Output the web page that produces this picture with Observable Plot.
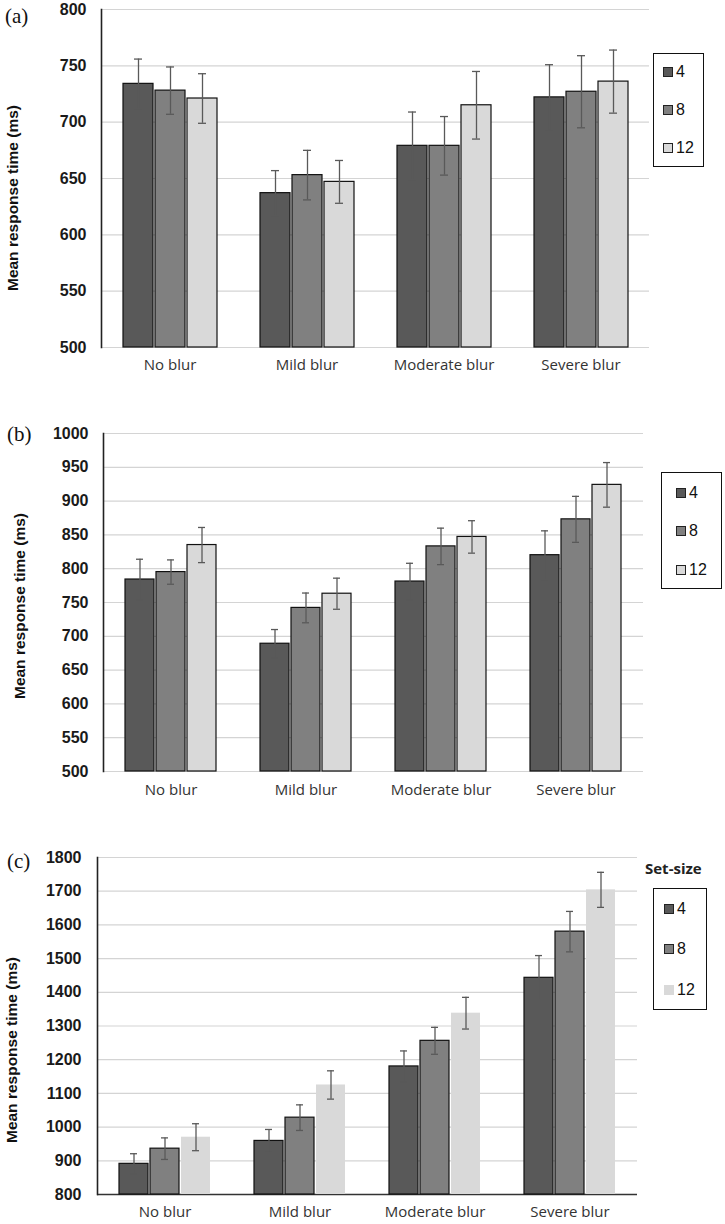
<!DOCTYPE html>
<html>
<head>
<meta charset="utf-8">
<script src="https://cdn.jsdelivr.net/npm/d3@7"></script>
<script src="https://cdn.jsdelivr.net/npm/@observablehq/plot@0.6"></script>
<style>
  html, body { margin: 0; padding: 0; background: #fff; }
  #root { position: relative; width: 725px; height: 1224px; overflow: hidden; font-family: "Liberation Sans", Arial, sans-serif; }
  .panel { position: absolute; left: 0; }
  .tag { position: absolute; font-family: "Liberation Serif", "Times New Roman", serif; font-size: 21px; color: #111; line-height: 1; transform: translateY(-50%); }
  .ytitle { position: absolute; font-weight: bold; font-size: 15.5px; color: #111; white-space: nowrap; transform: translate(-50%, -50%) rotate(-90deg); }
  .legend { position: absolute; border: 1.3px solid #111; box-sizing: border-box; background: #fff; }
  .item { position: absolute; display: flex; align-items: center; font-size: 16px; color: #111; transform: translateY(-50%); }
  .sw { width: 8px; height: 8px; border: 1px solid #222; margin-right: 3px; }
  .ltitle { position: absolute; font-family: "Open Sans", sans-serif; font-weight: bold; font-size: 15px; color: #222; transform: translateY(-50%); }
</style>
</head>
<body>
<div id="root"></div>
<script>
const categories = ["No blur", "Mild blur", "Moderate blur", "Severe blur"];
const setSizes = ["4", "8", "12"];
const colors = ["#595959", "#808080", "#d9d9d9"];

// rows = blur categories, columns = set sizes 4, 8, 12
const meanA = [[734, 728, 721], [637, 653, 647], [679, 679, 715], [722, 727, 736]];
const errA  = [[22, 21, 22], [20, 22, 19], [30, 26, 30], [29, 32, 28]];
const ticksA = [500, 550, 600, 650, 700, 750, 800];

const meanB = [[784, 795, 835], [689, 742, 763], [781, 833, 847], [820, 873, 924]];
const errB  = [[30, 18, 26], [21, 22, 23], [27, 27, 24], [36, 34, 33]];
const ticksB = [500, 550, 600, 650, 700, 750, 800, 850, 900, 950, 1000];

const meanC = [[891, 936, 970], [959, 1028, 1125], [1180, 1256, 1338], [1443, 1580, 1704]];
const errC  = [[30, 32, 40], [34, 38, 42], [46, 40, 47], [66, 60, 52]];
const ticksC = [800, 900, 1000, 1100, 1200, 1300, 1400, 1500, 1600, 1700, 1800];

const root = document.getElementById("root");

function rowsOf(means, errs) {
  const rows = [];
  categories.forEach((c, i) => setSizes.forEach((s, j) => {
    rows.push({cat: c, size: s, mean: means[i][j], lo: means[i][j] - errs[i][j], hi: means[i][j] + errs[i][j]});
  }));
  return rows;
}

function panel(cfg) {
  const rows = rowsOf(cfg.means, cfg.errs);
  const y0 = cfg.ticks[0], y1 = cfg.ticks[cfg.ticks.length - 1];
  const marks = [
    Plot.gridY(cfg.ticks, {stroke: "#d4d4d4", strokeOpacity: 1, strokeWidth: 1.2}),
  ];
  if (cfg.baseLine) marks.push(Plot.ruleY([y0], {stroke: "#333", strokeWidth: 1.5}));
  if (cfg.noStroke12) {
    marks.push(Plot.barY(rows, {filter: d => d.size !== "12", fx: "cat", x: "size", y1: y0, y2: "mean", fill: "size", stroke: "#111", strokeWidth: 1.2}));
    marks.push(Plot.barY(rows, {filter: d => d.size === "12", fx: "cat", x: "size", y1: y0, y2: "mean", fill: "size"}));
  } else {
    marks.push(Plot.barY(rows, {fx: "cat", x: "size", y1: y0, y2: "mean", fill: "size", stroke: "#111", strokeWidth: 1.2}));
  }
  marks.push(
    Plot.ruleX(rows, {fx: "cat", x: "size", y1: "lo", y2: "hi", stroke: "#595959", strokeWidth: 1.3}),
    Plot.tickY(rows, {fx: "cat", x: "size", y: "hi", stroke: "#595959", strokeWidth: 1.3, inset: 11}),
    Plot.tickY(rows, {fx: "cat", x: "size", y: "lo", stroke: "#595959", strokeWidth: 1.3, inset: 11}),
    Plot.axisY({ticks: cfg.ticks, tickFormat: d => String(d), tickSize: 0, tickPadding: cfg.tickPad, label: null, fontWeight: "bold", fontSize: 16, fill: "#1a1a1a"}),
    Plot.axisFx({anchor: "bottom", tickSize: 0, tickPadding: cfg.fxPad, label: null, fontSize: 15, fill: "#333", fontFamily: "'Open Sans', sans-serif"}),
    Plot.frame({anchor: "left", facet: "super", stroke: "#222", strokeWidth: 1.6})
  );
  const svg = Plot.plot({
    width: 725,
    height: cfg.height,
    marginTop: cfg.mt, marginBottom: cfg.mb, marginLeft: cfg.ml, marginRight: cfg.mr,
    style: {background: "transparent", fontFamily: "'Liberation Sans', Arial, sans-serif"},
    fx: {domain: categories, padding: 0, label: null},
    x: {domain: setSizes, paddingInner: 0.077, paddingOuter: 0.654, axis: null},
    y: {domain: [y0, y1], label: null},
    color: {domain: setSizes, range: colors},
    marks
  });
  const wrap = document.createElement("div");
  wrap.className = "panel";
  wrap.style.top = cfg.top + "px";
  wrap.appendChild(svg);
  root.appendChild(wrap);

  const tag = document.createElement("div");
  tag.className = "tag";
  tag.textContent = cfg.tag;
  tag.style.left = cfg.tagX + "px";
  tag.style.top = cfg.tagY + "px";
  root.appendChild(tag);

  const yt = document.createElement("div");
  yt.className = "ytitle";
  yt.textContent = "Mean response time (ms)";
  yt.style.left = cfg.ytX + "px";
  yt.style.top = cfg.ytY + "px";
  root.appendChild(yt);

  if (cfg.legendTitle) {
    const lt = document.createElement("div");
    lt.className = "ltitle";
    lt.textContent = cfg.legendTitle;
    lt.style.left = cfg.legendTitleX + "px";
    lt.style.top = cfg.legendTitleY + "px";
    root.appendChild(lt);
  }
  const lg = document.createElement("div");
  lg.className = "legend";
  Object.assign(lg.style, {left: cfg.lg.x + "px", top: cfg.lg.y + "px", width: cfg.lg.w + "px", height: cfg.lg.h + "px"});
  setSizes.forEach((s, j) => {
    const it = document.createElement("div");
    it.className = "item";
    it.style.left = cfg.lg.sx + "px";
    it.style.top = cfg.lg.rows[j] + "px";
    const sw = document.createElement("div");
    sw.className = "sw";
    sw.style.background = colors[j];
    if (cfg.noStroke12 && s === "12") sw.style.borderColor = colors[j];
    const tx = document.createElement("span");
    tx.textContent = s;
    it.appendChild(sw); it.appendChild(tx);
    lg.appendChild(it);
  });
  root.appendChild(lg);
}

panel({means: meanA, errs: errA, ticks: ticksA, top: 0, height: 380, mt: 9, mb: 33, ml: 100, mr: 75,
  tickPad: 15, fxPad: 12, tag: "(a)", tagX: 5, tagY: 16, ytX: 13, ytY: 198,
  lg: {x: 653, y: 53, w: 51, h: 114, sx: 9, rows: [18, 56, 94]}});

panel({means: meanB, errs: errB, ticks: ticksB, top: 420, height: 385, mt: 13, mb: 34, ml: 102, mr: 81,
  tickPad: 15, fxPad: 13, tag: "(b)", tagX: 7, tagY: 434, ytX: 20, ytY: 606,
  lg: {x: 661, y: 472, w: 61, h: 117, sx: 14, rows: [20, 58, 97]}});

panel({means: meanC, errs: errC, ticks: ticksC, top: 845, height: 379, mt: 12, mb: 30, ml: 96, mr: 87,
  tickPad: 16, fxPad: 12, tag: "(c)", tagX: 7, tagY: 861, ytX: 12, ytY: 1050,
  noStroke12: true, baseLine: true, legendTitle: "Set-size", legendTitleX: 645, legendTitleY: 868,
  lg: {x: 653, y: 888, w: 54, h: 122, sx: 10, rows: [20, 60, 101]}});
</script>
</body>
</html>
